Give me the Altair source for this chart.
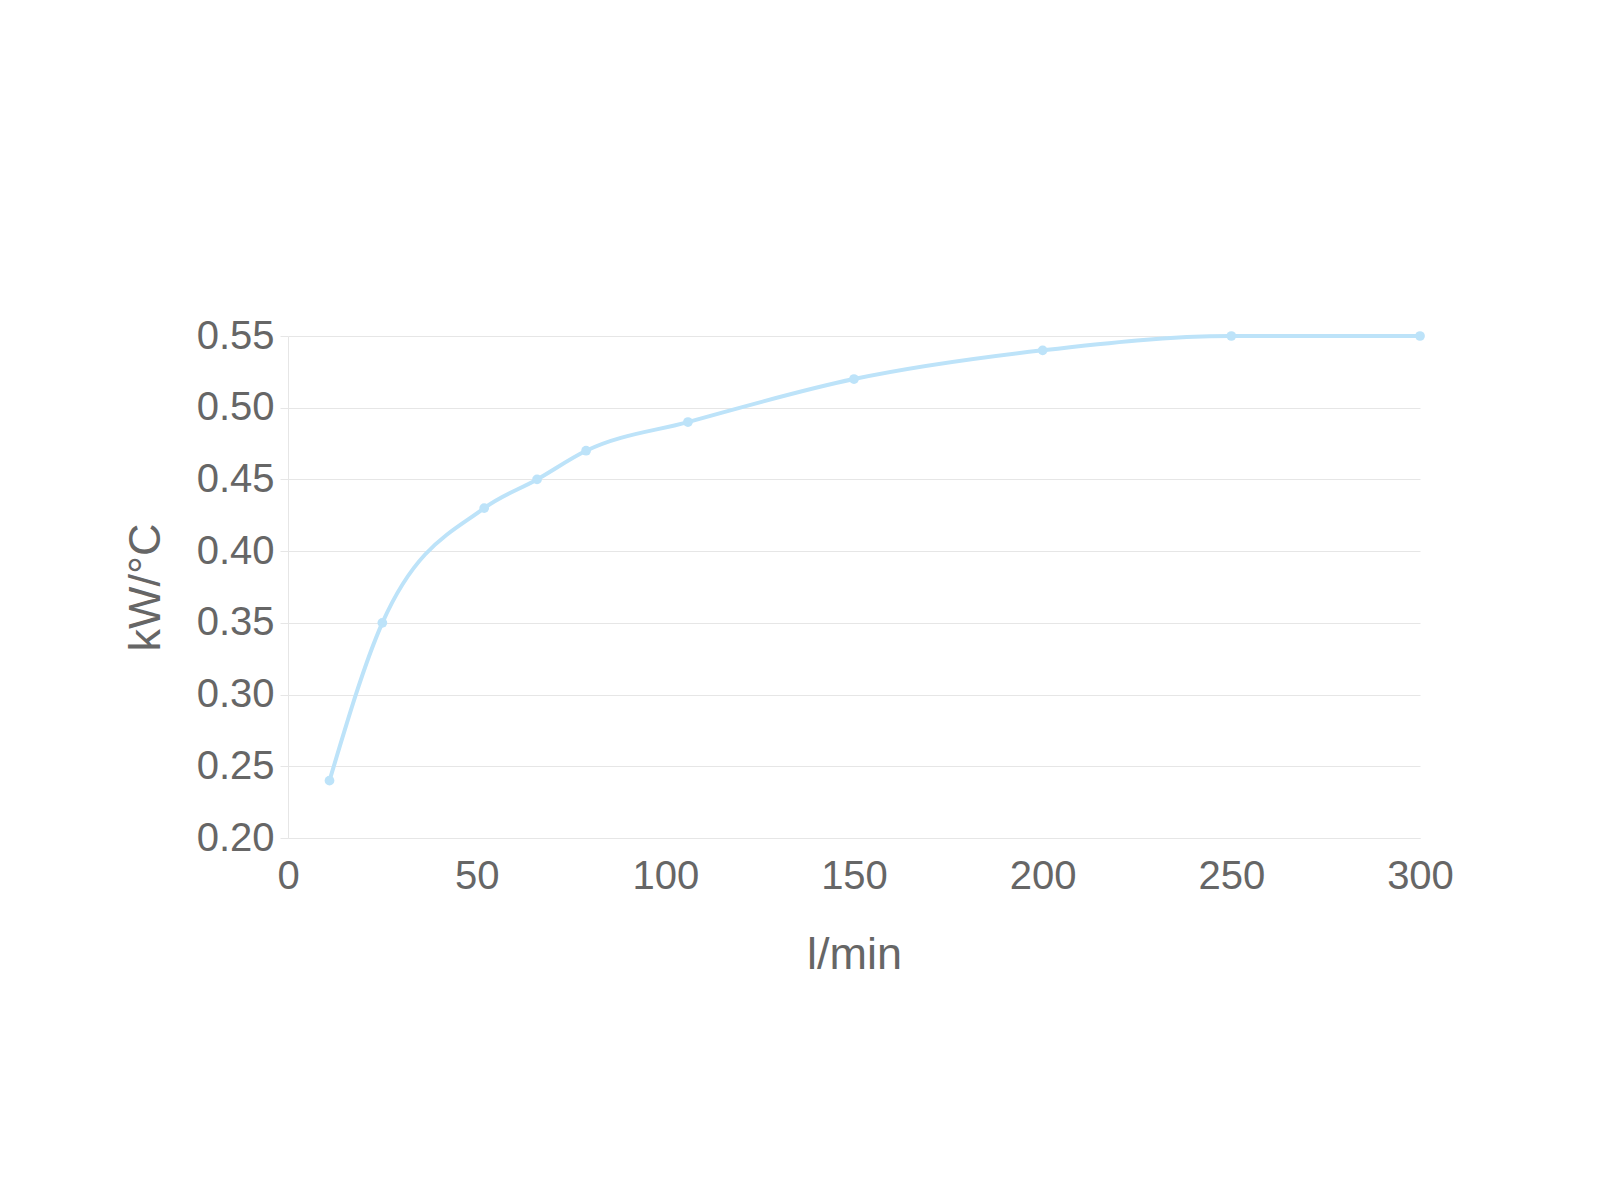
import altair as alt
import pandas as pd

flow = [11, 25, 52, 66, 79, 106, 150, 200, 250, 300]
power = [0.24, 0.35, 0.43, 0.45, 0.47, 0.49, 0.52, 0.54, 0.55, 0.55]

df = pd.DataFrame({"flow": flow, "power": power})

LINE = "#bde3f9"
GRID = "#e6e6e6"
TXT = "#666666"
FONT = "Liberation Sans"

W, H = 1132, 502

x = alt.X("flow:Q", title="l/min",
          scale=alt.Scale(domain=[0, 300], nice=False),
          axis=alt.Axis(values=[0, 50, 100, 150, 200, 250, 300], format="d",
                        grid=False, ticks=False, domain=True, domainColor=GRID,
                        labelFlush=False,
                        labelFontSize=40, labelColor=TXT, labelFont=FONT, labelPadding=18,
                        titleFontSize=45, titleColor=TXT, titleFont=FONT, titleFontWeight="normal",
                        titleX=W / 2, titleY=130, titleBaseline="alphabetic"))
y = alt.Y("power:Q", title="kW/°C",
          scale=alt.Scale(domain=[0.2, 0.55], nice=False, zero=False),
          axis=alt.Axis(values=[0.2, 0.25, 0.3, 0.35, 0.4, 0.45, 0.5, 0.55], format=".2f",
                        grid=True, gridColor=GRID, ticks=True, tickSize=8, tickColor=GRID,
                        domain=True, domainColor=GRID,
                        labelFontSize=40, labelColor=TXT, labelFont=FONT, labelPadding=6,
                        titleFontSize=45, titleColor=TXT, titleFont=FONT, titleFontWeight="normal",
                        titleX=-129, titleY=H / 2, titleAngle=270, titleBaseline="alphabetic",
                        titleAlign="center"))

line = alt.Chart(df).mark_line(color=LINE, strokeWidth=4, interpolate="monotone").encode(x=x, y=y)
pts = alt.Chart(df).mark_point(filled=True, color=LINE, size=95, opacity=1).encode(x=x, y=y)

chart = (line + pts).properties(
    width=W, height=H,
    autosize=alt.AutoSizeParams(type="none"),
    padding={"left": 280, "top": 328, "right": 160, "bottom": 300},
).configure_view(stroke=None)

chart.save("out.html", embed_options={"renderer": "svg", "actions": False})
